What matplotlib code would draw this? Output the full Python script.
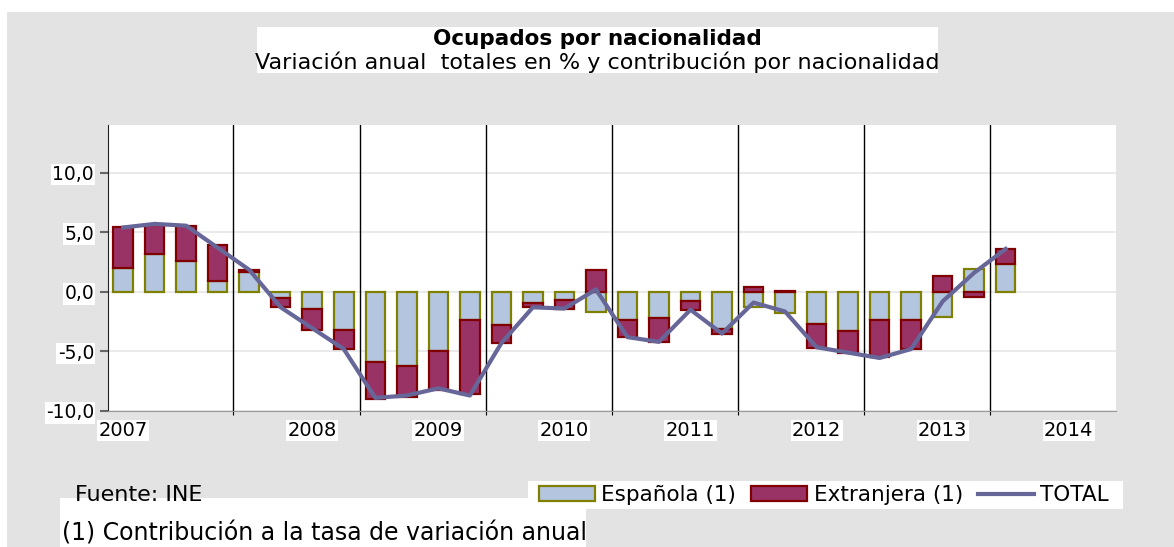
import matplotlib
matplotlib.use('Agg')
import numpy as np
import matplotlib.pyplot as plt
from matplotlib.patches import Rectangle, Patch
from matplotlib.lines import Line2D

plt.rcParams['font.family'] = ['DejaVu Sans']

# quarterly data 2007T1 - 2014T1
espanola = [2.0, 3.2, 2.6, 0.9, 1.7, -0.5, -1.4, -3.2, -5.9, -6.2, -5.0, -2.4, -2.8, -0.9, -0.7,
            -1.7, -2.4, -2.2, -0.8, -3.1, -1.3, -1.8, -2.7, -3.3, -2.4, -2.4, -2.1, 1.9, 2.3]
extranjera = [3.4, 2.4, 2.9, 3.0, 0.15, -0.8, -1.8, -1.6, -3.1, -2.6, -3.2, -6.2, -1.5, -0.4, -0.7,
              1.85, -1.4, -2.0, -0.7, -0.4, 0.4, 0.1, -2.0, -1.8, -3.1, -2.4, 1.35, -0.4, 1.3]
total = [5.4, 5.7, 5.55, 3.7, 1.85, -1.3, -3.05, -4.8, -8.9, -8.7, -8.1, -8.7, -4.3, -1.3, -1.4,
         0.2, -3.8, -4.2, -1.5, -3.5, -0.9, -1.65, -4.65, -5.1, -5.55, -4.8, -0.8, 1.6, 3.6]
years = ['2007', '2008', '2009', '2010', '2011', '2012', '2013', '2014']
year_label_pos = [0, 6, 10, 14, 18, 22, 26, 30]
year_breaks = [3.5, 7.5, 11.5, 15.5, 19.5, 23.5, 27.5]
yticks = [-10, -5, 0, 5, 10]

BG = '#e3e3e3'
ESP_FILL, ESP_EDGE = '#b4c6df', '#808000'
EXT_FILL, EXT_EDGE = '#993366', '#800000'
LINE_COL = '#666699'

W, H = 1174, 547
fig = plt.figure(figsize=(W / 100, H / 100), dpi=100, facecolor='white')

def px_rect(x0, y0, x1, y1, color, z=0):
    # rectangle in pixel coords (origin top-left)
    fig.patches.append(Rectangle((x0 / W, 1 - y1 / H), (x1 - x0) / W, (y1 - y0) / H,
                                 transform=fig.transFigure, facecolor=color,
                                 edgecolor='none', zorder=z))

px_rect(7, 12, W, H, BG)
px_rect(257, 27, 938, 73, 'white', 1)
px_rect(60, 498, 586, H, 'white', 1)
px_rect(528, 481, 1123, 509, 'white', 1)

ax = fig.add_axes([108 / W, 1 - 411 / H, (1116 - 108) / W, (411 - 125) / H])
ax.set_zorder(3)
ax.set_facecolor('white')

x = np.arange(len(espanola))
esp = np.array(espanola)
ext = np.array(extranjera)
bottom = np.where(np.sign(esp) == np.sign(ext), esp, 0)

ax.bar(x, esp, width=0.62, color=ESP_FILL, edgecolor=ESP_EDGE, linewidth=1.6, zorder=3)
ax.bar(x, ext, bottom=bottom, width=0.62, color=EXT_FILL, edgecolor=EXT_EDGE, linewidth=1.6, zorder=3)
ax.plot(x, total, color=LINE_COL, linewidth=3, zorder=4)

for b in year_breaks:
    ax.axvline(b, color='black', linewidth=1, zorder=2)

ax.set_xlim(-0.48, 31.5)
ax.set_ylim(-10, 14)
ax.set_yticks(yticks)
ax.set_yticklabels(['{:.1f}'.format(v).replace('.', ',') for v in yticks], fontsize=13.5)
for t in ax.get_yticklabels():
    t.set_bbox(dict(facecolor='white', edgecolor='none', pad=1))
ax.yaxis.grid(True, color='#e6e6e6', linewidth=1.2, zorder=1)
ax.set_xticks(year_breaks)
ax.set_xticklabels([])
ax.tick_params(axis='x', length=3, direction='out', color='black')
ax.tick_params(axis='y', length=6, width=1.5, direction='out', color='#666666', pad=4)
for s in ['top', 'right']:
    ax.spines[s].set_visible(False)
ax.spines['left'].set_color('#222222')
ax.spines['bottom'].set_color('#999999')

for lab, pos in zip(years, year_label_pos):
    ax.text(pos, -10.85, lab, ha='center', va='top', fontsize=14, clip_on=False,
            bbox=dict(facecolor='white', edgecolor='none', pad=1))

fig.text(597 / W, 1 - 39 / H, 'Ocupados por nacionalidad', ha='center', va='center',
         fontsize=15.5, fontweight='bold', zorder=5)
fig.text(597 / W, 1 - 62 / H, 'Variación anual  totales en % y contribución por nacionalidad',
         ha='center', va='center', fontsize=16, zorder=5)
fig.text(75 / W, 1 - 495 / H, 'Fuente: INE', ha='left', va='center', fontsize=16, zorder=5)
fig.text(62 / W, 1 - 534 / H, '(1) Contribución a la tasa de variación anual', ha='left',
         va='center', fontsize=17, zorder=5)

handles = [Patch(facecolor=ESP_FILL, edgecolor=ESP_EDGE, linewidth=1.6, label='Española (1)'),
           Patch(facecolor=EXT_FILL, edgecolor=EXT_EDGE, linewidth=1.6, label='Extranjera (1)'),
           Line2D([], [], color=LINE_COL, linewidth=3, label='TOTAL')]
leg = fig.legend(handles=handles, loc='center', bbox_to_anchor=(824 / W, 1 - 495 / H), ncol=3,
                 frameon=False, fontsize=15.5, handlelength=2.6, handleheight=0.65,
                 handletextpad=0.3, columnspacing=0.7, borderpad=0.2)
leg.set_zorder(6)

fig.savefig('out.png', dpi=100, facecolor=fig.get_facecolor())
